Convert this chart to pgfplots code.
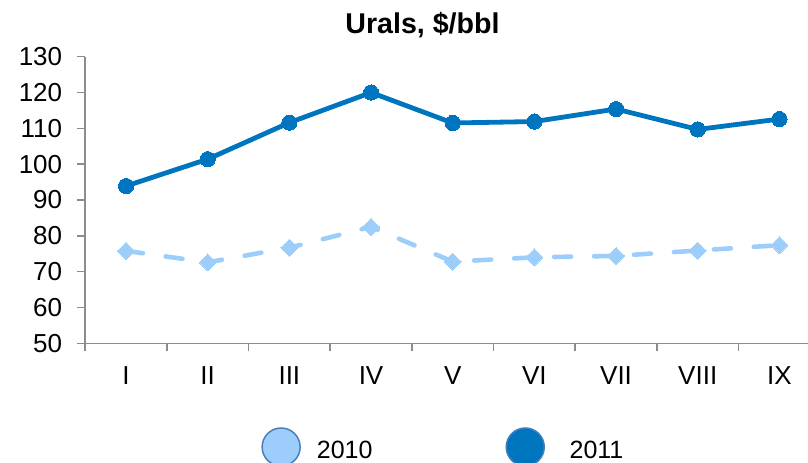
\documentclass[border=0pt]{standalone}
\usepackage{fontspec}
\setmainfont{Liberation Sans}
\usepackage{pgfplots}
\pgfplotsset{compat=1.18}
\definecolor{c2011}{HTML}{0075BF}
\definecolor{c2010}{HTML}{9DCDFA}
\definecolor{e2010}{HTML}{4A7EBB}
\definecolor{e2011}{HTML}{3F7FC0}
\definecolor{axgray}{HTML}{8C8C8C}
\begin{document}
\begin{tikzpicture}
\begin{axis}[
 scale only axis, width=361.4pt, height=143.3pt,
 xmin=-0.5, xmax=8.35, ymin=50, ymax=130,
 ytick={50,60,...,130},
 xtick={-0.5,0.5,...,7.5}, xticklabels={,,,,,,,,,},
 extra x ticks={0,...,8},
 extra x tick labels={I,II,III,IV,V,VI,VII,VIII,IX},
 extra x tick style={major tick length=0pt, xticklabel style={yshift=-8pt}},
 axis x line=bottom, axis y line=left,
 axis line style={-, draw=axgray, line width=0.75pt},
 tick style={draw=axgray, line width=0.75pt},
 tick align=outside, major tick length=4pt,
 tick label style={font=\fontsize{13}{15.6}\selectfont},
 /pgf/number format/assume math mode=true,
 yticklabel style={xshift=-4pt},
 clip=false,
 legend style={draw=none, fill=none, legend columns=2, at={(0.2349,-0.3618)}, anchor=west,
   font=\fontsize{12.5}{15}\selectfont,
   /tikz/every odd column/.append style={column sep=6pt},
   /tikz/every even column/.append style={column sep=64.5pt}},
]
\addplot[c2010, line width=2.3pt, dash pattern=on 8.5pt off 11.5pt, line cap=round,
  mark=square*, mark size=3pt,
  mark options={solid, rotate=45, fill=c2010, draw=c2010, line width=0pt}, forget plot]
  coordinates {(0,75.8)(1,72.6)(2,76.7)(3,82.5)(4,72.8)(5,74.0)(6,74.4)(7,75.9)(8,77.4)};
\addplot[c2011, line width=2.4pt, mark=*, mark size=3.8pt,
  mark options={fill=c2011, draw=c2011, line width=0pt}, forget plot]
  coordinates {(0,93.9)(1,101.4)(2,111.6)(3,120.0)(4,111.5)(5,111.9)(6,115.4)(7,109.7)(8,112.6)};
\addlegendimage{legend image code/.code={\filldraw[fill=c2010,draw=e2010,line width=0.75pt] (9.5pt,2pt) circle (9.5pt);}}
\addlegendentry{2010}
\addlegendimage{legend image code/.code={\filldraw[fill=c2011,draw=e2011,line width=0.75pt] (9.5pt,2pt) circle (9.5pt); \path (23.5pt,2pt);}}
\addlegendentry{2011}
\end{axis}
\node[anchor=base, font=\bfseries\fontsize{14.3}{17}\selectfont] at (168.65pt,155.15pt) {Urals, \$/bbl};
\pgfresetboundingbox
\path[use as bounding box] (-42.6pt,-59.35pt) rectangle (361.4pt,171.65pt);
\end{tikzpicture}
\end{document}
